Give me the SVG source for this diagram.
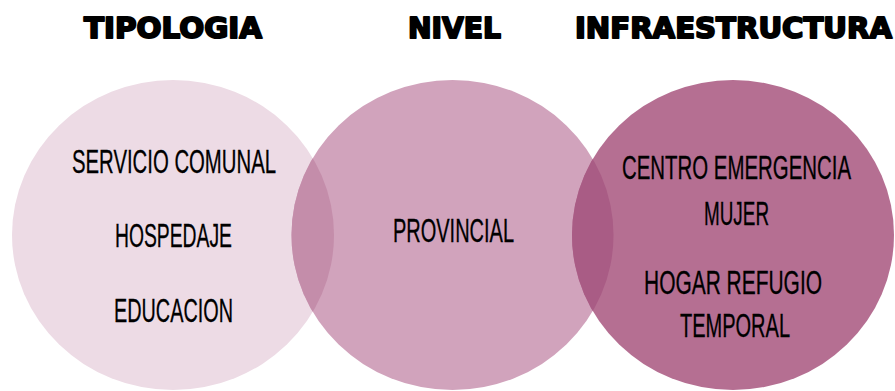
<svg xmlns="http://www.w3.org/2000/svg" width="895" height="391" viewBox="0 0 895 391">
<style>
.title{font-family:"DejaVu Sans","Liberation Sans",sans-serif;font-weight:bold;font-size:29px;fill:#000;stroke:#000;stroke-width:2px;stroke-linejoin:round}
.lbl{font-family:"Liberation Sans","DejaVu Sans",sans-serif;font-size:22px;fill:#000;stroke:#000;stroke-width:0.2px;text-anchor:middle}
</style>
<defs>
<clipPath id="clipL"><ellipse cx="173" cy="235" rx="161" ry="155"/></clipPath>
<clipPath id="clipR"><ellipse cx="733" cy="235" rx="161" ry="155"/></clipPath>
</defs>
<rect width="895" height="391" fill="#ffffff"/>
<g id="titles">
<text class="title" x="84" y="38" textLength="178" lengthAdjust="spacingAndGlyphs">TIPOLOGIA</text>
<text class="title" x="408" y="38" textLength="93" lengthAdjust="spacingAndGlyphs">NIVEL</text>
<text class="title" x="575" y="38" textLength="317" lengthAdjust="spacingAndGlyphs">INFRAESTRUCTURA</text>
</g>
<g id="tipologia">
<ellipse cx="173" cy="235" rx="161" ry="155" fill="#EDDBE5"/>
</g>
<g id="nivel">
<ellipse cx="452.5" cy="235" rx="161" ry="155" fill="#D1A3BC"/>
<ellipse cx="452.5" cy="235" rx="161" ry="155" fill="#C48DAA" clip-path="url(#clipL)"/>
</g>
<g id="infraestructura">
<ellipse cx="733" cy="235" rx="161" ry="155" fill="#B56F92"/>
<ellipse cx="452.5" cy="235" rx="161" ry="155" fill="#A95C85" clip-path="url(#clipR)"/>
</g>
<g id="labels">
<text class="lbl" transform="translate(174 173) scale(1 1.54)" textLength="204" lengthAdjust="spacingAndGlyphs">SERVICIO COMUNAL</text>
<text class="lbl" transform="translate(173.5 247) scale(1 1.54)" textLength="117" lengthAdjust="spacingAndGlyphs">HOSPEDAJE</text>
<text class="lbl" transform="translate(173.5 322) scale(1 1.54)" textLength="119" lengthAdjust="spacingAndGlyphs">EDUCACION</text>
<text class="lbl" transform="translate(453.5 242) scale(1 1.54)" textLength="121" lengthAdjust="spacingAndGlyphs">PROVINCIAL</text>
<text class="lbl" transform="translate(736.5 179) scale(1 1.54)" textLength="229" lengthAdjust="spacingAndGlyphs">CENTRO EMERGENCIA</text>
<text class="lbl" transform="translate(736.5 225) scale(1 1.54)" textLength="65" lengthAdjust="spacingAndGlyphs">MUJER</text>
<text class="lbl" transform="translate(733 294) scale(1 1.54)" textLength="178" lengthAdjust="spacingAndGlyphs">HOGAR REFUGIO</text>
<text class="lbl" transform="translate(735 337) scale(1 1.54)" textLength="110" lengthAdjust="spacingAndGlyphs">TEMPORAL</text>
</g>
</svg>
